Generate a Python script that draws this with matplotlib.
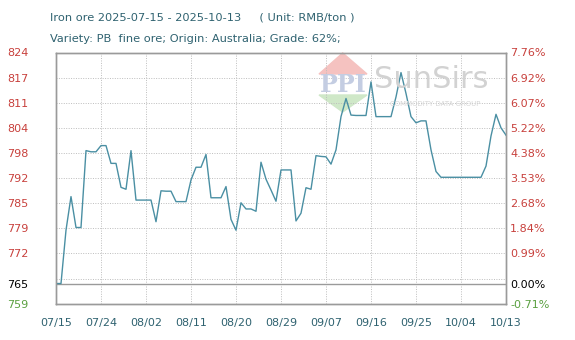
import numpy as np
import pandas as pd
import matplotlib
matplotlib.use("Agg")
import matplotlib.pyplot as plt
import matplotlib.dates as mdates
from matplotlib.patches import Polygon

# Data, one value per day from 07/15
start_date = "2025-07-15"
end_date = "2025-10-13"
prices = [
    764.2, 764.2, 778.0, 786.7, 778.7, 778.7, 798.6, 798.3, 798.3, 799.9,
    799.9, 795.3, 795.3, 789.1, 788.6, 798.6, 785.8, 785.8, 785.8, 785.8,
    780.2, 788.2, 788.1, 788.1, 785.4, 785.4, 785.4, 791.0, 794.3, 794.3,
    797.6, 786.4, 786.4, 786.4, 789.3, 780.8, 778.0, 785.1, 783.5, 783.5,
    782.9, 795.6, 791.2, 788.4, 785.5, 793.6, 793.6, 793.6, 780.4, 782.4,
    789.0, 788.6, 797.3, 797.1, 797.0, 795.1, 798.8, 807.4, 812.1, 807.8,
    807.7, 807.7, 807.7, 816.4, 807.4, 807.4, 807.4, 807.4, 812.5, 818.8,
    813.4, 807.4, 805.8, 806.3, 806.3, 798.8, 793.2, 791.7, 791.7, 791.7,
    791.7, 791.7, 791.7, 791.7, 791.7, 791.7, 794.6, 802.4, 808.0, 804.5,
    802.6,
]
base_price = 764.2
y_top = 824.0
y_bottom = 758.9
grid_step = 6.5

left_labels = ["824", "817", "811", "804", "798", "792", "785", "779", "772"]
right_labels = ["7.76%", "6.92%", "6.07%", "5.22%", "4.38%", "3.53%",
                "2.68%", "1.84%", "0.99%"]
base_label_left, base_label_right = "765", "0.00%"
bottom_label_left, bottom_label_right = "759", "-0.71%"

title_line1 = "Iron ore 2025-07-15 - 2025-10-13     ( Unit: RMB/ton )"
title_line2 = "Variety: PB  fine ore; Origin: Australia; Grade: 62%;"

dates = pd.date_range(start_date, periods=len(prices), freq="D")
xticks = pd.date_range(start_date, end_date, freq="9D")

# Colours
line_color = "#4a8fa3"
text_color = "#2f6270"
red = "#c8403c"
green = "#5aa040"
frame_color = "#9a9a9a"
grid_color = "#bdbdbd"

fig = plt.figure(figsize=(5.75, 3.4), dpi=100)
ax = fig.add_axes([56 / 575, 36 / 340, 450 / 575, 251.5 / 340])

# watermark (drawn in figure pixel fractions)
def fx(x):
    return x / 575

def fy(y):
    return 1 - y / 340

red_tri = Polygon([(fx(342.7), fy(53)), (fx(319), fy(74)), (fx(367), fy(74))],
                  closed=True, transform=fig.transFigure, color="#f5c2c0",
                  zorder=0)
green_tri = Polygon([(fx(319), fy(95)), (fx(367), fy(95)), (fx(342.7), fy(112))],
                    closed=True, transform=fig.transFigure, color="#cfe8c8",
                    zorder=0)
fig.add_artist(red_tri)
fig.add_artist(green_tri)
fig.text(fx(343), fy(84.5), "PPI", transform=fig.transFigure, fontsize=17,
         color="#c4cde2", ha="center", va="center", fontweight="bold",
         family="DejaVu Serif", zorder=0)
fig.text(fx(374), fy(79), "SunSirs", fontsize=22, color="#d2d2d2",
         ha="left", va="center", zorder=0)
fig.text(fx(435), fy(104), "COMMODITY DATA GROUP", fontsize=5, color="#d6d6d6",
         ha="center", va="center", zorder=0)
ax.patch.set_alpha(0)

# grid lines
grid_vals = [y_top - grid_step * k for k in range(len(left_labels) + 1)]
for g in grid_vals[1:]:
    ax.axhline(g, color=grid_color, lw=0.7, ls=(0, (1, 1.5)), zorder=1)
for t in xticks[1:-1]:
    ax.axvline(t, color=grid_color, lw=0.7, ls=(0, (1, 1.5)), zorder=1)
ax.axhline(base_price, color=frame_color, lw=1.0, zorder=2)

ax.plot(dates, prices, color=line_color, lw=1.0, zorder=3)

ax.set_xlim(pd.Timestamp(start_date), pd.Timestamp(end_date))
ax.set_ylim(y_bottom, y_top)

ax.set_xticks(xticks)
ax.xaxis.set_major_formatter(mdates.DateFormatter("%m/%d"))
ax.tick_params(axis="x", length=0, pad=10, labelsize=8, labelcolor=text_color)

yt = grid_vals[:len(left_labels)] + [base_price, y_bottom]
ax.set_yticks(yt)
ax.set_yticklabels(left_labels + [base_label_left, bottom_label_left])
ax.tick_params(axis="y", length=0, pad=20, labelsize=8)
colors = [red] * len(left_labels) + ["black", green]
for lab, c in zip(ax.get_yticklabels(), colors):
    lab.set_color(c)

ax2 = ax.twinx()
ax2.set_ylim(y_bottom, y_top)
ax2.set_yticks(yt)
ax2.set_yticklabels(right_labels + [base_label_right, bottom_label_right])
ax2.tick_params(axis="y", length=0, pad=3, labelsize=8)
for lab, c in zip(ax2.get_yticklabels(), colors):
    lab.set_color(c)

for a in (ax, ax2):
    for s in a.spines.values():
        s.set_color(frame_color)
        s.set_linewidth(1.0)

fig.text(50 / 575, 1 - 17 / 340, title_line1, fontsize=8.2, color=text_color,
         ha="left", va="center")
fig.text(50 / 575, 1 - 39 / 340, title_line2, fontsize=8.2, color=text_color,
         ha="left", va="center")

fig.savefig("out.png", dpi=100)
